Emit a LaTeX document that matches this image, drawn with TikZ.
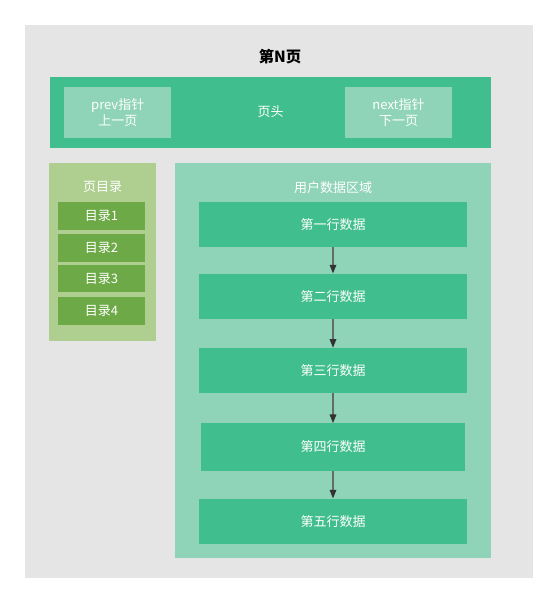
\documentclass[tikz,border=0pt]{standalone}
\usepackage{fontspec}
\setmainfont{Noto Sans CJK SC}
\usetikzlibrary{arrows.meta}
\definecolor{pagegray}{HTML}{E5E5E5}
\definecolor{headgreen}{HTML}{41BE8E}
\definecolor{lightgreen}{HTML}{8FD4B9}
\definecolor{tocpanel}{HTML}{AECF90}
\definecolor{tocgreen}{HTML}{6DAA47}
\definecolor{arrowgray}{HTML}{5F6E67}
\begin{document}
\begin{tikzpicture}[x=0.75pt, y=-0.75pt,
    box/.style={rectangle, inner sep=0pt, text=white, font=\fontsize{9.75}{12}\selectfont, align=center},
    hbox/.style={box, fill=lightgreen, minimum width=80.25pt, minimum height=38pt},
    tocbox/.style={box, fill=tocgreen, minimum width=65.25pt, minimum height=20.8pt},
    rowbox/.style={box, fill=headgreen, minimum width=201pt, minimum height=33.75pt},
    link/.style={draw=arrowgray, line width=0.9pt, -{Triangle[width=5pt, length=6.5pt, color=black!80]}}]
  \useasboundingbox (0, 0) rectangle (558, 604);
  % page frame
  \fill[pagegray] (25, 25) rectangle (533, 578);
  \node (title) at (280, 57) {\fontsize{11.5}{14}\selectfont\bfseries 第N页};
  % page header
  \node[box, fill=headgreen, minimum width=330.75pt, minimum height=53.25pt] (head) at (270.5, 112) {页头};
  \node[hbox] (prev) at (117.75, 112.4) {prev指针\\上一页};
  \node[hbox] (next) at (398.5, 112.4) {next指针\\下一页};
  % page directory
  \node[box, fill=tocpanel, minimum width=80pt, minimum height=133.3pt] (toc) at (102.7, 252.2) {};
  \node[box] (toctitle) at (102.7, 187) {页目录};
  \node[tocbox] (toc1) at (101.5, 216.2) {目录1};
  \node[tocbox] (toc2) at (101.5, 247.9) {目录2};
  \node[tocbox] (toc3) at (101.5, 278.5) {目录3};
  \node[tocbox] (toc4) at (101.5, 311) {目录4};
  % user records
  \node[box, fill=lightgreen, minimum width=236.8pt, minimum height=295.8pt] (user) at (333, 360.5) {};
  \node[box] (usertitle) at (333, 188) {用户数据区域};
  \node[rowbox] (r1) at (333, 224.7) {第一行数据};
  \node[rowbox] (r2) at (333, 296.2) {第二行数据};
  \node[rowbox] (r3) at (333, 370.5) {第三行数据};
  \node[rowbox, minimum width=197.5pt, minimum height=35.5pt] (r4) at (333, 447) {第四行数据};
  \node[rowbox] (r5) at (333, 521.2) {第五行数据};
  \draw[link] (r1) -- (r2);
  \draw[link] (r2) -- (r3);
  \draw[link] (r3) -- (r4);
  \draw[link] (r4) -- (r5);
\end{tikzpicture}
\end{document}
